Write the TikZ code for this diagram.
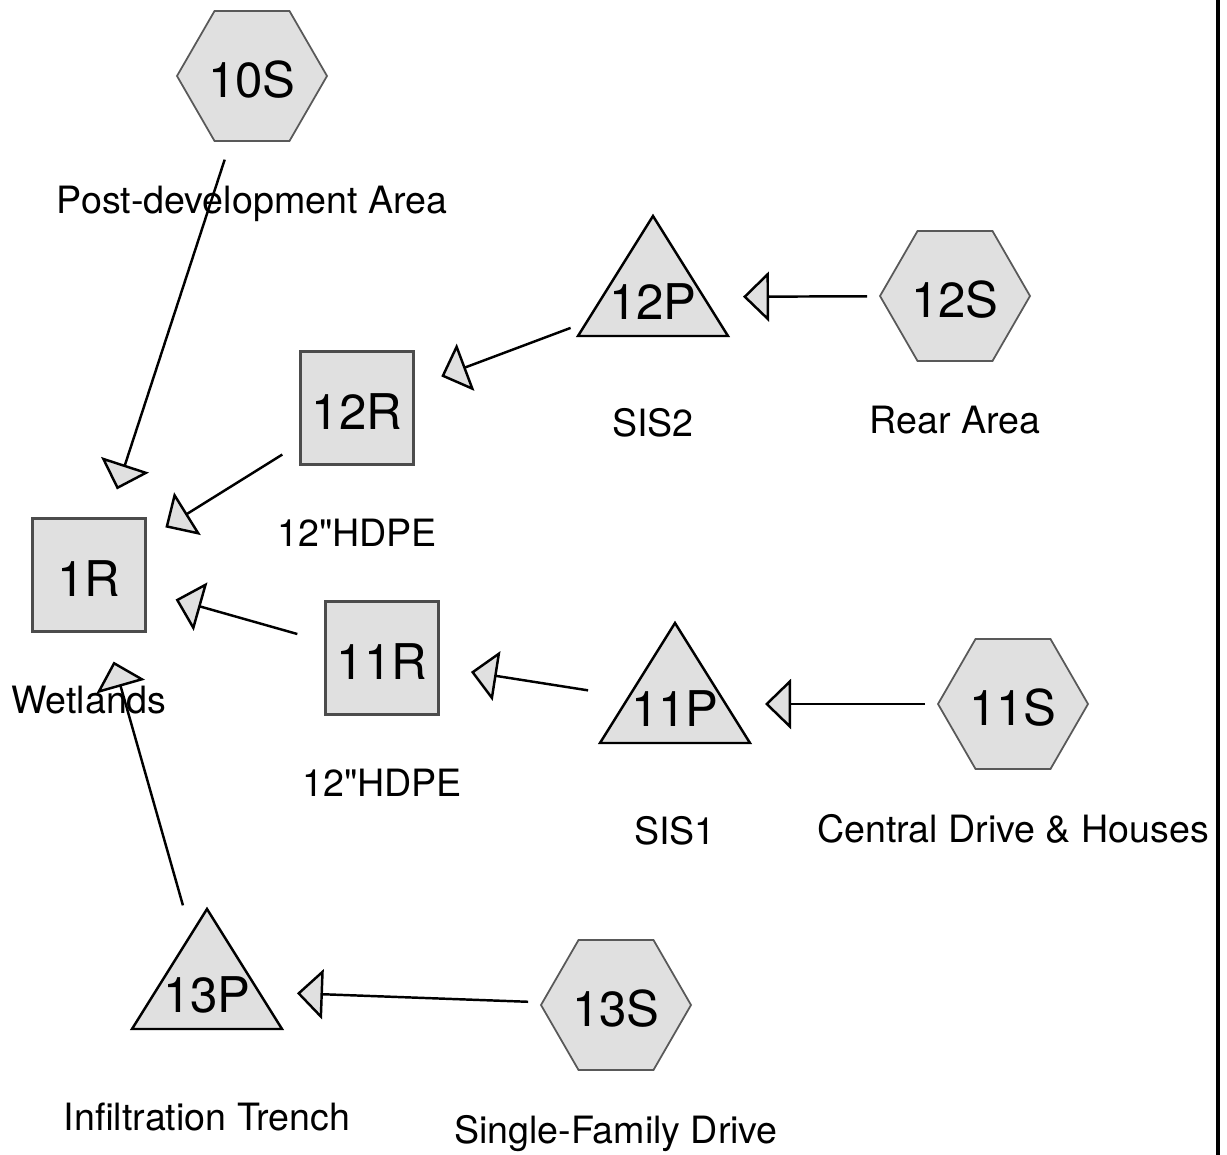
\documentclass[tikz,border=0pt]{standalone}
\usepackage{fontspec}
\setmainfont{TeX Gyre Heros}[Ligatures=TeXOff]
\usepackage{tikz}
\usetikzlibrary{positioning,arrows.meta,shapes.geometric}

\begin{document}
\begin{tikzpicture}[
    subcat/.style={regular polygon,regular polygon sides=6,draw=black!65,fill=black!12,
      line width=0.5pt,minimum size=1.5cm,inner sep=0pt,
      font=\fontsize{14}{16}\selectfont,text height=0.43cm,text depth=0pt},
    reach/.style={rectangle,draw=black!70,fill=black!12,line width=0.6pt,
      minimum size=1.13cm,inner sep=0pt,
      font=\fontsize{14}{16}\selectfont,text height=0.43cm,text depth=0pt},
    pond/.style={inner sep=0pt,font=\fontsize{14}{16}\selectfont,
      text height=0.45cm,text depth=0pt},
    tag/.style={anchor=base,font=\fontsize{10.7}{12}\selectfont},
    flow/.style={line width=0.7pt,-{Triangle[length=0.26cm,width=0.5cm,fill=black!12]},
      shorten <=0.88cm,shorten >=0.90cm}]
  \useasboundingbox (0,0) rectangle (12.27,-11.55);

  % Subcatchments
  \node[subcat] (s10) at (2.52,-0.76) {10S};
  \node[subcat] (s12) at (9.55,-2.96) {12S};
  \node[subcat] (s11) at (10.13,-7.04) {11S};
  \node[subcat] (s13) at (6.16,-10.05) {13S};

  % Reaches
  \node[reach] (r1) at (0.89,-5.75) {1R};
  \node[reach] (r12) at (3.57,-4.08) {12R};
  \node[reach] (r11) at (3.82,-6.58) {11R};

  % Ponds
  \foreach \nm/\x/\y/\txt in {p12/6.53/-2.97/12P,p11/6.75/-7.04/11P,p13/2.07/-9.90/13P} {
    \filldraw[fill=black!12,line width=0.7pt]
      (\x,\y+0.81) -- (\x-0.75,\y-0.39) -- (\x+0.75,\y-0.39) -- cycle;
    \node[pond] (\nm) at (\x,\y) {\txt};
  }

  % Descriptions
  \foreach \nd/\txt in {s10/Post-development Area,s12/Rear Area,
      s11/Central Drive \& Houses,s13/Single-Family Drive,
      r1/Wetlands,r12/12"HDPE,r11/12"HDPE}
    \node[tag] (\nd-tag) at ([yshift=-1.38cm]\nd.center) {\txt};
  \foreach \nd/\txt in {p12/SIS2,p11/SIS1,p13/Infiltration Trench}
    \node[tag] (\nd-tag) at ([yshift=-1.40cm]\nd.center) {\txt};

  % Links
  \draw[flow] (s10.center) -- (r1.center);
  \draw[flow] (s12.center) -- (p12.center);
  \draw[flow] (p12.center) -- (r12.center);
  \draw[flow] (r12.center) -- (r1.center);
  \draw[flow] (s11.center) -- (p11.center);
  \draw[flow] (p11.center) -- (r11.center);
  \draw[flow] (r11.center) -- (r1.center);
  \draw[flow] (s13.center) -- (p13.center);
  \draw[flow] (p13.center) -- (r1.center);

  % Page edge
  \draw[line width=1.1pt] (12.18,0) -- (12.18,-11.55);
\end{tikzpicture}
\end{document}
